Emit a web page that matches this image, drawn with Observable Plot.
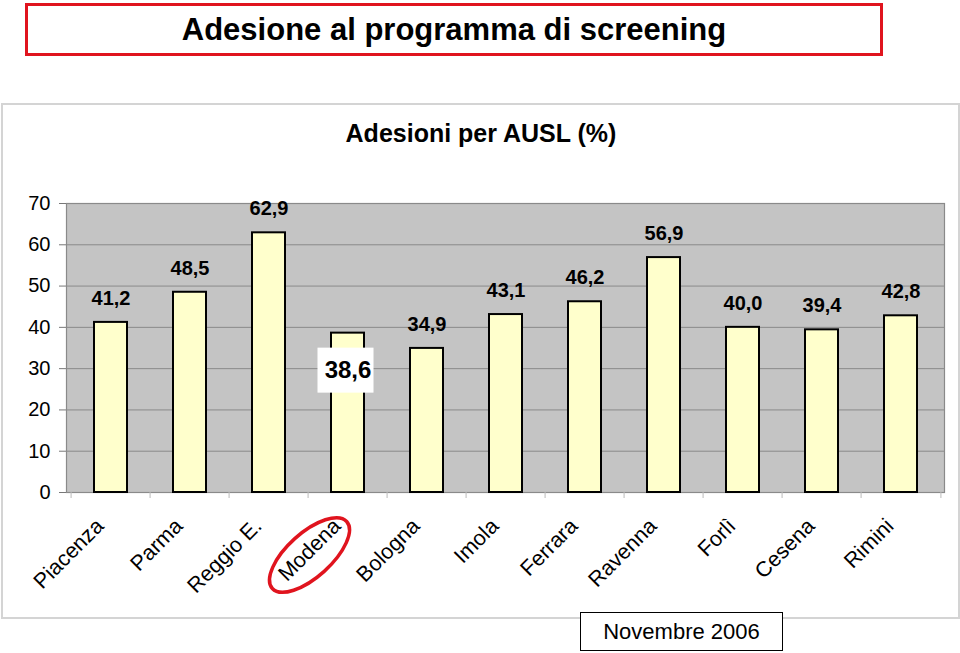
<!DOCTYPE html>
<html>
<head>
<meta charset="utf-8">
<script src="https://cdn.jsdelivr.net/npm/d3@7"></script>
<script src="https://cdn.jsdelivr.net/npm/@observablehq/plot@0.6"></script>
<style>
  html, body { margin: 0; padding: 0; background: #fff; }
  body { width: 960px; height: 653px; position: relative; overflow: hidden; font-family: "Liberation Sans", Arial, sans-serif; }
  #titlebox { position: absolute; left: 25px; top: 3px; width: 852px; height: 47px; border: 3px solid #e0141e; display: flex; align-items: center; justify-content: center; font-weight: bold; font-size: 31px; color: #000; }
  #chartbox { position: absolute; left: 1px; top: 103px; width: 955px; height: 512px; border: 2px solid #d4d4d4; }
  #subtitle { position: absolute; left: 0; width: 962px; top: 119px; text-align: center; font-weight: bold; font-size: 25px; }
  #plot { position: absolute; left: 0; top: 0; }
  #footer { position: absolute; left: 580px; top: 612px; width: 201px; height: 37px; border: 1.5px solid #000; background: #fff; display: flex; align-items: center; justify-content: center; font-size: 22px; }
</style>
</head>
<body>
<div id="chartbox"></div>
<div id="titlebox">Adesione al programma di screening</div>
<div id="subtitle">Adesioni per AUSL (%)</div>
<div id="plot"></div>
<div id="footer">Novembre 2006</div>
<script>
const categories = ["Piacenza", "Parma", "Reggio E.", "Modena", "Bologna", "Imola", "Ferrara", "Ravenna", "Forlì", "Cesena", "Rimini"];
const values = [41.2, 48.5, 62.9, 38.6, 34.9, 43.1, 46.2, 56.9, 40.0, 39.4, 42.8];
const labels = ["41,2", "48,5", "62,9", "38,6", "34,9", "43,1", "46,2", "56,9", "40,0", "39,4", "42,8"];
const yTicks = [0, 10, 20, 30, 40, 50, 60, 70];
const highlighted = "Modena";

const data = categories.map((c, i) => ({ cat: c, value: values[i], label: labels[i] }));
const normal = data.filter(d => d.cat !== highlighted);
const special = data.filter(d => d.cat === highlighted);

const W = 960, H = 653;
const mL = 66, mR = 16, mT = 203, mB = 161;
const step = (W - mL - mR) / categories.length;
const pIn = 0.585;

const plot = Plot.plot({
  width: W,
  height: H,
  marginLeft: mL,
  marginRight: mR,
  marginTop: mT,
  marginBottom: mB,
  style: { fontFamily: "'Liberation Sans', Arial, sans-serif", background: "transparent", overflow: "visible" },
  x: { domain: categories, paddingInner: pIn, paddingOuter: pIn / 2, align: 0.5, label: null },
  y: { domain: [0, 70], label: null },
  marks: [
    Plot.frame({ fill: "#c4c4c4", stroke: "none" }),
    Plot.ruleY(yTicks, { stroke: "#8a8a8a", strokeWidth: 1 }),
    Plot.frame({ stroke: "#8a8a8a", strokeWidth: 1.2 }),
    Plot.barY(data, { x: "cat", y: "value", fill: "#ffffcc", stroke: "#000", strokeWidth: 2 }),
    Plot.axisY(yTicks, { tickSize: 7, tickPadding: 9, fontSize: 20, fill: "#000", stroke: "#777", tickFormat: d => String(d) }),
    Plot.axisX({ tickSize: 6, tickFormat: () => "", dx: -step / 2, stroke: "#bbb" }),
    Plot.axisX([categories[categories.length - 1]], { tickSize: 6, tickFormat: () => "", dx: step / 2, stroke: "#bbb" }),
    Plot.axisX({ tickSize: 0, tickRotate: -45, tickPadding: 30, fontSize: 21.5, fill: "#000", dx: -11 }),
    Plot.text(normal, { x: "cat", y: "value", text: "label", dy: -24, fontSize: 20, fontWeight: "bold", fill: "#000" }),
    Plot.text(special, { x: "cat", y: "value", text: "label", dy: 37, fontSize: 24, fontWeight: "bold", fill: "#000" })
  ]
});

document.getElementById("plot").appendChild(plot);

// White box behind the Modena label and red annotation ellipse, positioned with the plot's scales
const xs = plot.scale("x"), ys = plot.scale("y");
const svg = d3.select(plot);
special.forEach(d => {
  const cx = xs.apply(d.cat) + xs.bandwidth / 2;
  const cy = ys.apply(d.value) + 37;
  const textGroups = svg.selectAll("g[aria-label='text']").nodes();
  const lastText = textGroups[textGroups.length - 1];
  d3.select(lastText.parentNode).insert("rect", () => lastText)
    .attr("x", cx - 30).attr("y", cy - 22).attr("width", 56).attr("height", 45)
    .attr("fill", "#fff");
  const ex = cx - 38, ey = ys.apply(0) + 63;
  svg.append("ellipse")
    .attr("cx", ex).attr("cy", ey).attr("rx", 50).attr("ry", 22)
    .attr("transform", `rotate(-42 ${ex} ${ey})`)
    .attr("fill", "none").attr("stroke", "#e0141e").attr("stroke-width", 3.5);
});
</script>
</body>
</html>
